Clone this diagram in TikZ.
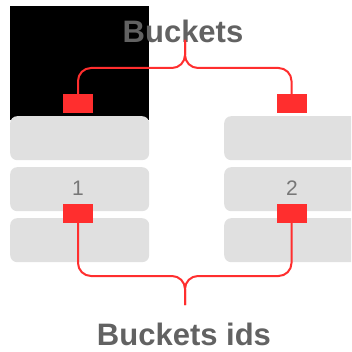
\documentclass[tikz,border=0pt]{standalone}
\usepackage{fontspec}
\setmainfont{Liberation Sans}
\definecolor{boxgray}{HTML}{E0E0E0}
\definecolor{redc}{HTML}{FF2E2E}
\definecolor{txtgray}{HTML}{626262}
\definecolor{numgray}{HTML}{777777}
\begin{document}
\begin{tikzpicture}[x=1pt,y=-1pt,
  slot/.style={fill=boxgray,draw=none,rounded corners=7pt,minimum width=139pt,minimum height=44pt,inner sep=0pt,anchor=north west},
  rslot/.style={slot,minimum width=140pt},
  marker/.style={fill=redc,draw=none,minimum width=30pt,minimum height=19pt,inner sep=0pt},
  brace/.style={draw=redc,line width=2pt,rounded corners=13pt},
  title/.style={font=\bfseries\fontsize{31}{31}\selectfont,text=txtgray,inner sep=0pt}]
\useasboundingbox (0,0) rectangle (351,352);
\fill[black] (10,6) rectangle (149,120);
\begin{scope}
\clip (0,0) rectangle (351,352);
\node[slot] (l1) at (10,116) {};
\node[slot] (l2) at (10,167) {};
\node[slot] (l3) at (10,218) {};
\node[rslot] (r1) at (224,116) {};
\node[rslot] (r2) at (224,167) {};
\node[rslot] (r3) at (224,218) {};
\end{scope}
\node[font=\fontsize{21}{21}\selectfont,text=numgray,inner sep=0pt] (n1) at (78,188) {1};
\node[font=\fontsize{21}{21}\selectfont,text=numgray,inner sep=0pt] (n2) at (292,188) {2};
\node[marker] (lt) at (78,103.5) {};
\node[marker] (rt) at (291.5,103.5) {};
\node[marker] (lb) at (78,213.5) {};
\node[marker] (rb) at (291.5,213.5) {};
\node[title] (bk) at (183,31) {Buckets};
\node[title] (bid) at (184,334) {Buckets ids};
\coordinate (ts) at (185,40);
\coordinate (bs) at (185,305);
\draw[brace] (lt.north) |- (185,68) -- (ts);
\draw[brace] (rt.north) |- (185,68) -- (ts);
\draw[brace] (lb.south) |- (185,276) -- (bs);
\draw[brace] (rb.south) |- (185,276) -- (bs);
\end{tikzpicture}
\end{document}
